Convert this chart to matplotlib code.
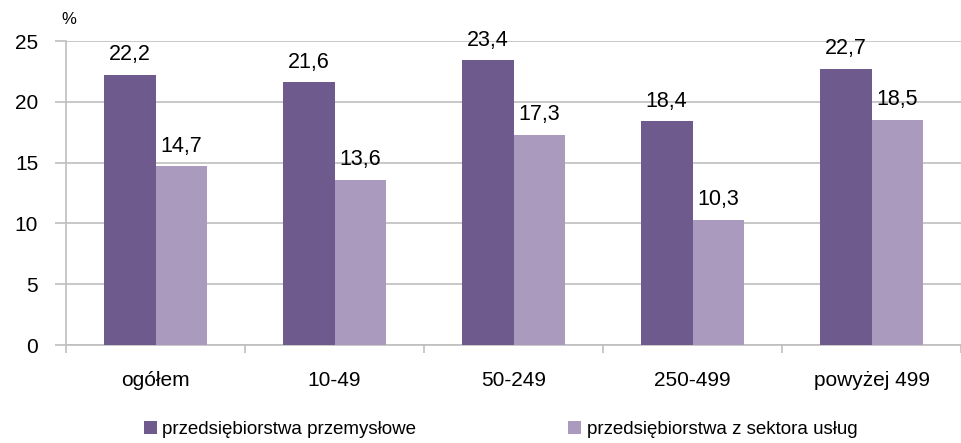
import matplotlib.pyplot as plt
import numpy as np

categories = ['ogółem', '10-49', '50-249', '250-499', 'powyżej 499']
przemyslowe = [22.2, 21.6, 23.4, 18.4, 22.7]
uslugi = [14.7, 13.6, 17.3, 10.3, 18.5]
series_names = ['przedsiębiorstwa przemysłowe', 'przedsiębiorstwa z sektora usług']
yticks = [0, 5, 10, 15, 20, 25]

plt.rcParams['font.family'] = ['Liberation Sans', 'DejaVu Sans']

fig = plt.figure(figsize=(9.61, 4.43), dpi=100)
ax = fig.add_axes([0.0687, 0.2212, 0.9313, 0.6862])

x = np.arange(len(categories))
w = 0.29
dark = '#6F5A8E'
light = '#AA9BBE'
b1 = ax.bar(x - w / 2, przemyslowe, w, color=dark, label=series_names[0], zorder=3)
b2 = ax.bar(x + w / 2, uslugi, w, color=light, label=series_names[1], zorder=3)

for bars in (b1, b2):
    for r in bars:
        v = r.get_height()
        ax.annotate(f'{v:.1f}'.replace('.', ','), (r.get_x() + r.get_width() / 2, v),
                    xytext=(0, 7), textcoords='offset points', ha='center', va='bottom',
                    fontsize=15.5)

ax.set_xlim(-0.5, len(categories) - 0.5)
ax.set_ylim(0, 25)
ax.set_yticks(yticks)
ax.set_yticklabels([str(t) for t in yticks], fontsize=15)
ax.yaxis.grid(True, color='#BFBFBF', linewidth=1.2, zorder=0)
ax.tick_params(axis='y', length=8, color='#BFBFBF', width=1.2, pad=12)

ax.set_xticks(x)
ax.set_xticklabels(categories, fontsize=15)
ax.tick_params(axis='x', length=0, pad=19)
ax.set_xticks(np.arange(len(categories) + 1) - 0.5, minor=True)
ax.tick_params(axis='x', which='minor', length=6, color='#BFBFBF', width=1.2)

for s in ['top', 'right']:
    ax.spines[s].set_visible(False)
for s in ['left', 'bottom']:
    ax.spines[s].set_color('#BFBFBF')
    ax.spines[s].set_linewidth(1.2)

fig.text(0.064, 0.955, '%', fontsize=12, ha='left', va='center')

fig.legend(handles=[b1, b2], loc='center', bbox_to_anchor=(0.521, 0.03), ncol=2,
           frameon=False, fontsize=13.5, handlelength=0.7, handleheight=0.7,
           handletextpad=0.3, columnspacing=8.1)

fig.savefig('out.png', dpi=100)
